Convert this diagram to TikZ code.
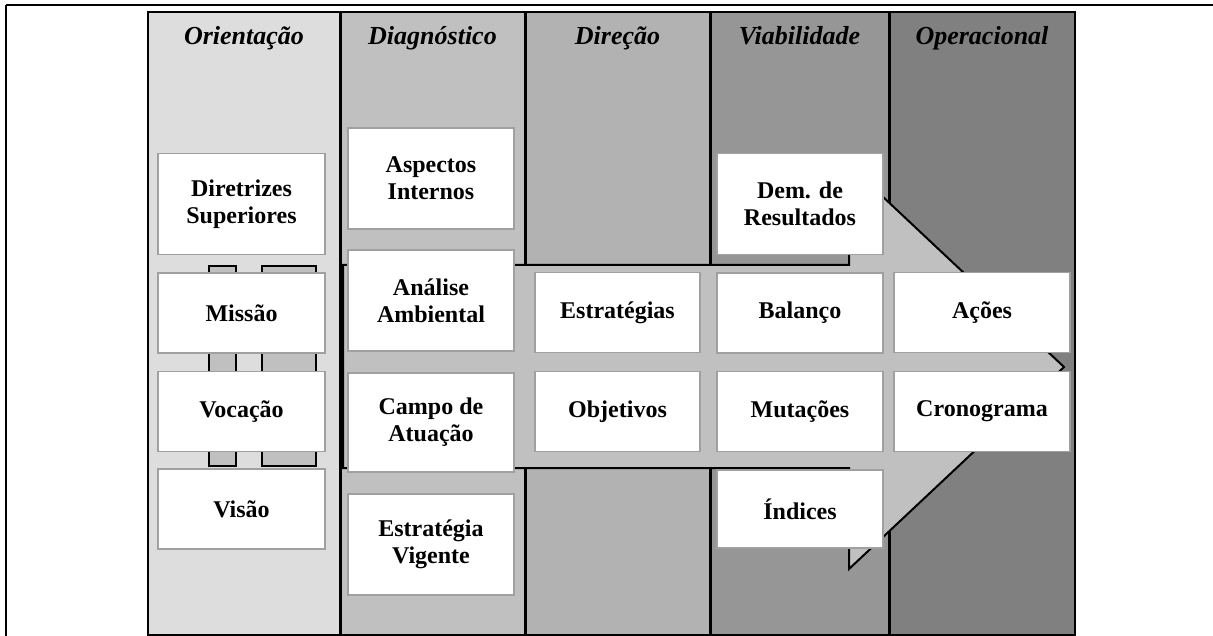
\documentclass[tikz,border=0pt]{standalone}
\usepackage{fontspec}
\setmainfont{Liberation Serif}
\definecolor{colA}{HTML}{DDDDDD}
\definecolor{colB}{HTML}{C0C0C0}
\definecolor{colC}{HTML}{B2B2B2}
\definecolor{colD}{HTML}{969696}
\definecolor{colE}{HTML}{808080}
\definecolor{arrowgray}{HTML}{C0C0C0}
\definecolor{cardline}{HTML}{A0A0A0}
\begin{document}
\begin{tikzpicture}[x=1bp,y=-1bp,
  card/.style={draw=cardline,fill=white,line width=1.5bp,align=center,
    inner sep=0pt,font=\fontsize{24bp}{27bp}\selectfont\bfseries},
  single/.style={card,minimum height=80bp},
  double/.style={card,minimum height=101bp},
  colhead/.style={anchor=base,font=\fontsize{26bp}{30bp}\selectfont\bfseries\itshape},
  divider/.style={draw=black,line width=3bp},
  linkbar/.style={fill=colB,draw=black,line width=2bp}]
\useasboundingbox (0,0) rectangle (1213,636);

% outer frame (top and left edges)
\draw[line width=2.5bp] (6,5) -- (1213,5);
\draw[line width=2bp] (6,5) -- (6,636);

% column bands
\fill[colA] (148,12) rectangle (340,635);
\fill[colB] (340,12) rectangle (525,635);
\fill[colC] (525,12) rectangle (710,635);
\fill[colD] (710,12) rectangle (889,635);
\fill[colE] (889,12) rectangle (1075,635);
\draw[line width=1.5bp] (148,12) rectangle (1075,635);
\foreach \xd in {340,525,710,889}
  \draw[divider] (\xd,12) -- (\xd,635);

% headers
\node[colhead] (h1) at (244,45) {Orientação};
\node[colhead] (h2) at (432.5,45) {Diagnóstico};
\node[colhead] (h3) at (617.5,45) {Direção};
\node[colhead] (h4) at (799.5,45) {Viabilidade};
\node[colhead] (h5) at (982,45) {Operacional};

% links between the orientation cards
\draw[linkbar] (209,266) rectangle (236,466);
\draw[linkbar] (262,266) rectangle (316,466);

% large flow arrow
\draw[fill=arrowgray,line width=2bp,line join=miter]
  (343,265) -- (849,265) -- (849,165) -- (1064,367) -- (849,569)
  -- (849,468) -- (343,468) -- cycle;

% Orientação
\node[double,minimum width=167bp] (dir) at (241.5,204) {Diretrizes\\Superiores};
\node[single,minimum width=167bp] (mis) at (241.5,313) {Missão};
\node[single,minimum width=167bp] (voc) at (241.5,411.5) {Vocação};
\node[single,minimum width=167bp] (vis) at (241.5,509) {Visão};

% Diagnóstico
\node[double,minimum width=166bp] (asp) at (431,178.5) {Aspectos\\Internos};
\node[double,minimum width=166bp] (ana) at (431,300.5) {Análise\\Ambiental};
\node[double,minimum width=166bp,minimum height=99bp] (cam) at (431,422.5) {Campo de\\Atuação};
\node[double,minimum width=166bp] (vig) at (431,544.5) {Estratégia\\Vigente};

% Direção
\node[single,minimum width=165bp] (est) at (617.5,312.5) {Estratégias};
\node[single,minimum width=165bp] (obj) at (617.5,411.5) {Objetivos};

% Viabilidade
\node[double,minimum width=166bp] (dem) at (800,204) {Dem. de\\Resultados};
\node[single,minimum width=166bp] (bal) at (800,313) {Balanço};
\node[single,minimum width=166bp] (mut) at (800,411.5) {Mutações};
\node[single,minimum width=166bp,minimum height=78bp] (ind) at (800,509) {Índices};

% Operacional
\node[single,minimum width=176bp] (aco) at (982,312.5) {Ações};
\node[single,minimum width=176bp] (cro) at (982,411.5) {Cronograma};
\end{tikzpicture}
\end{document}
